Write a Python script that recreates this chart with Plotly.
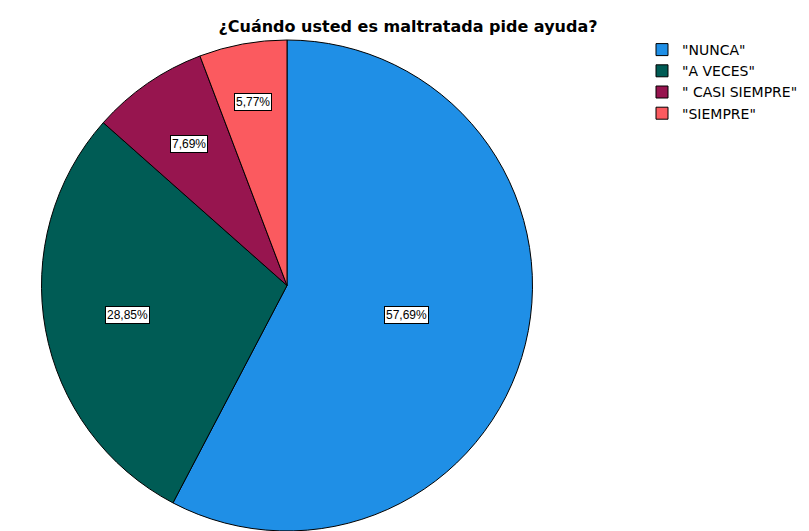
import numpy as np
import plotly.graph_objects as go

categories = ['"NUNCA"', '"A VECES"', '" CASI SIEMPRE"', '"SIEMPRE"']
percent_values = [57.69, 28.85, 7.69, 5.77]
percent_labels = ["57,69%", "28,85%", "7,69%", "5,77%"]
colors = ["#1f8fe6", "#005c55", "#97154f", "#fb5a5f"]
label_radius_frac = [0.50, 0.66, 0.70, 0.76]

W, H = 809, 531
cx, cy, r = 287.0, 285.5, 245.5

fig = go.Figure(go.Pie(
    labels=categories,
    values=percent_values,
    sort=False,
    direction="clockwise",
    rotation=0,
    marker=dict(colors=colors, line=dict(color="#000000", width=1)),
    textinfo="none",
    hoverinfo="label+percent",
    domain=dict(x=[(cx - r) / W, (cx + r) / W], y=[(H - cy - r) / H, (H - cy + r) / H]),
))

# box labels at slice mid-angles, computed from the data
total = sum(percent_values)
start = 0.0
for v, txt, f in zip(percent_values, percent_labels, label_radius_frac):
    mid = (start + v / 2) / total * 2 * np.pi
    start += v
    px = cx + r * f * np.sin(mid)
    py = cy - r * f * np.cos(mid)
    fig.add_annotation(
        x=px / W, y=1 - py / H, xref="paper", yref="paper",
        xanchor="center", yanchor="middle",
        text=txt, showarrow=False,
        font=dict(family="Liberation Sans, Arial", size=12, color="#000000"),
        bgcolor="#ffffff", bordercolor="#000000", borderwidth=1, borderpad=1,
    )

fig.update_layout(
    width=W, height=H,
    margin=dict(l=0, r=0, t=0, b=0),
    paper_bgcolor="#ffffff",
    plot_bgcolor="#ffffff",
    title=dict(
        text="<b>¿Cuándo usted es maltratada pide ayuda?</b>",
        x=408 / W, xanchor="center", y=1 - 26 / H, yanchor="middle",
        font=dict(family="DejaVu Sans, Arial", size=16, color="#000000"),
    ),
    legend=dict(
        x=642 / W, y=1 - 34 / H, xanchor="left", yanchor="top",
        font=dict(family="DejaVu Sans, Arial", size=14, color="#000000"),
        itemwidth=30, tracegroupgap=0,
        bgcolor="rgba(0,0,0,0)",
    ),
    showlegend=True,
)

fig.write_html(
    "out.html",
    config={"displayModeBar": False},
    post_script="document.body.style.margin='0px';document.body.style.overflow='hidden';",
)
